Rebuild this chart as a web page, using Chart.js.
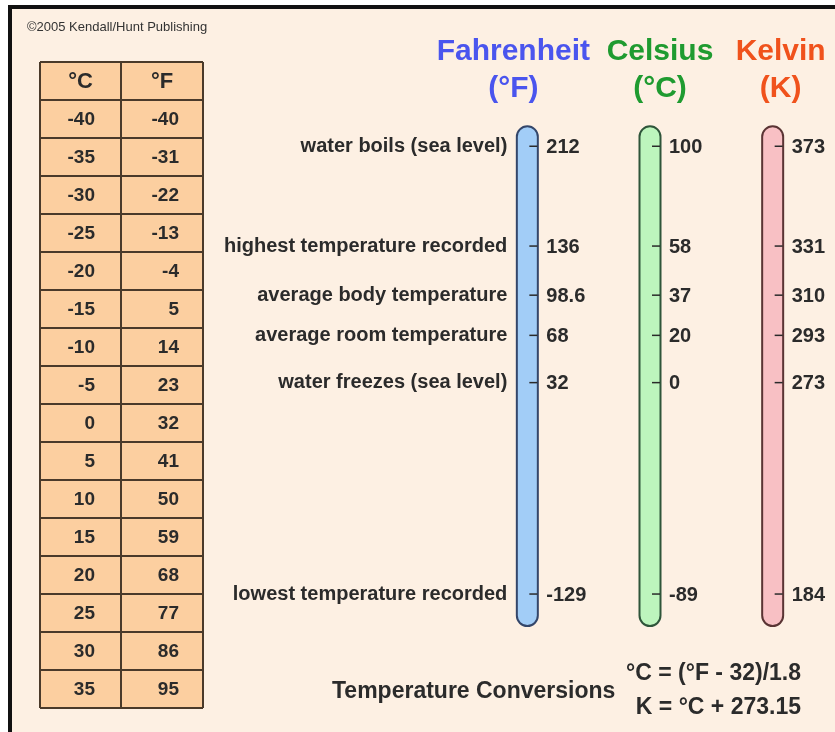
<!DOCTYPE html>
<html>
<head>
<meta charset="utf-8">
<title>Temperature Scales</title>
<script src="https://cdn.jsdelivr.net/npm/chart.js@4.4.3/dist/chart.umd.min.js"></script>
<style>
  html, body { margin: 0; padding: 0; background: #fff; overflow: hidden; }
  #frame {
    position: absolute; left: 8px; top: 5px; width: 900px; height: 800px;
    border-top: 4px solid #111; border-left: 4px solid #111;
    background: #fdf0e3;
  }
  #chart { position: absolute; left: 0; top: 0; }
</style>
</head>
<body>
<div id="frame"></div>
<canvas id="chart" width="835" height="732"></canvas>
<script>
// landmark temperatures shown on the three thermometers
const landmarks = [
  "water boils (sea level)",
  "highest temperature recorded",
  "average body temperature",
  "average room temperature",
  "water freezes (sea level)",
  "lowest temperature recorded",
];
const fahrenheit = [212, 136, 98.6, 68, 32, -129];
const celsius = [100, 58, 37, 20, 0, -89];
const kelvin = [373, 331, 310, 293, 273, 184];

const scaleNames = ["Fahrenheit", "Celsius", "Kelvin"];
const scaleUnits = ["(°F)", "(°C)", "(K)"];

// conversion table on the left
const tableHeader = ["°C", "°F"];
const tableCelsius = [-40, -35, -30, -25, -20, -15, -10, -5, 0, 5, 10, 15, 20, 25, 30, 35];
const tableFahrenheit = [-40, -31, -22, -13, -4, 5, 14, 23, 32, 41, 50, 59, 68, 77, 86, 95];

const FONT = '"Liberation Sans", Arial, sans-serif';
const TEXT = "#2b2b2b";

const tubeStyles = [
  { fill: "#a2cdf7", stroke: "#34466a", head: "#4a55ee", dx: -14 },
  { fill: "#bdf5bd", stroke: "#2f553a", head: "#1f9b30", dx: 10 },
  { fill: "#f8c0c4", stroke: "#5a3434", head: "#f0521c", dx: 8 },
];

const seriesValues = [fahrenheit, celsius, kelvin];

// every scale uses the Fahrenheit value as the common vertical position
const datasets = seriesValues.map((vals, i) => ({
  label: scaleNames[i],
  data: fahrenheit.map((f) => ({ x: i, y: f })),
  pointRadius: 0,
  pointHoverRadius: 0,
  showLine: false,
}));

const decor = {
  id: "decor",
  afterDatasetsDraw(chart) {
    const ctx = chart.ctx;
    ctx.save();

    // copyright
    ctx.fillStyle = "#333";
    ctx.font = "13px " + FONT;
    ctx.textAlign = "left";
    ctx.textBaseline = "alphabetic";
    ctx.fillText("©2005 Kendall/Hunt Publishing", 27, 31);

    // table
    const tx = 40, ty = 62, colW = [81, 82], rowH = 38;
    const rows = tableCelsius.length + 1;
    const tw = colW[0] + colW[1];
    ctx.fillStyle = "#fccfa0";
    ctx.fillRect(tx, ty, tw, rows * rowH);
    ctx.strokeStyle = "#4a3a2a";
    ctx.lineWidth = 2;
    for (let r = 0; r <= rows; r++) {
      ctx.beginPath();
      ctx.moveTo(tx, ty + r * rowH);
      ctx.lineTo(tx + tw, ty + r * rowH);
      ctx.stroke();
    }
    [0, colW[0], tw].forEach((x) => {
      ctx.beginPath();
      ctx.moveTo(tx + x, ty);
      ctx.lineTo(tx + x, ty + rows * rowH);
      ctx.stroke();
    });
    ctx.fillStyle = TEXT;
    ctx.textBaseline = "middle";
    ctx.textAlign = "center";
    ctx.font = "bold 22px " + FONT;
    ctx.fillText(tableHeader[0], tx + colW[0] / 2, ty + rowH / 2 + 1);
    ctx.fillText(tableHeader[1], tx + colW[0] + colW[1] / 2, ty + rowH / 2 + 1);
    ctx.font = "bold 19px " + FONT;
    ctx.textAlign = "right";
    tableCelsius.forEach((c, r) => {
      const yc = ty + (r + 1.5) * rowH + 1;
      ctx.fillText(String(c), tx + 55, yc);
      ctx.fillText(String(tableFahrenheit[r]), tx + colW[0] + 58, yc);
    });

    // thermometers
    chart.data.datasets.forEach((ds, i) => {
      const pts = chart.getDatasetMeta(i).data;
      const st = tubeStyles[i];
      const cx = pts[0].x;
      const ys = pts.map((p) => p.y);
      const top = Math.min(...ys) - 20;
      const bot = Math.max(...ys) + 32;
      const w = 21;

      ctx.beginPath();
      ctx.roundRect(cx - w / 2, top, w, bot - top, w / 2);
      ctx.fillStyle = st.fill;
      ctx.fill();
      ctx.lineWidth = 2;
      ctx.strokeStyle = st.stroke;
      ctx.stroke();

      ctx.strokeStyle = "#2a2a2a";
      ctx.lineWidth = 1.5;
      ctx.fillStyle = TEXT;
      ctx.font = "bold 20px " + FONT;
      ctx.textAlign = "left";
      ctx.textBaseline = "middle";
      pts.forEach((p, j) => {
        ctx.beginPath();
        ctx.moveTo(cx + 2, p.y);
        ctx.lineTo(cx + 10, p.y);
        ctx.stroke();
        ctx.fillText(String(seriesValues[i][j]), cx + 19, p.y + 1);
      });

      if (i === 0) {
        ctx.textAlign = "right";
        pts.forEach((p, j) => ctx.fillText(landmarks[j], cx - 20, p.y));
      }

      // header
      ctx.fillStyle = st.head;
      ctx.textAlign = "center";
      ctx.textBaseline = "alphabetic";
      ctx.font = "bold 30px " + FONT;
      ctx.fillText(scaleNames[i], cx + st.dx, 60);
      ctx.fillText(scaleUnits[i], cx + st.dx, 97);
    });

    // conversions
    ctx.fillStyle = TEXT;
    ctx.textBaseline = "alphabetic";
    ctx.font = "bold 23px " + FONT;
    ctx.textAlign = "left";
    ctx.fillText("Temperature Conversions", 332, 698);
    ctx.textAlign = "right";
    ctx.fillText("°C = (°F - 32)/1.8", 801, 680);
    ctx.fillText("K = °C + 273.15", 801, 714);

    ctx.restore();
  },
};

new Chart(document.getElementById("chart"), {
  type: "scatter",
  data: { datasets },
  options: {
    responsive: false,
    animation: false,
    events: [],
    layout: { padding: { left: 466, right: 1, top: 120, bottom: 92 } },
    scales: {
      x: { type: "linear", min: -0.5, max: 2.5, display: false },
      y: { type: "linear", min: -164, max: 232, display: false },
    },
    plugins: { legend: { display: false }, tooltip: { enabled: false } },
  },
  plugins: [decor],
});
</script>
</body>
</html>
